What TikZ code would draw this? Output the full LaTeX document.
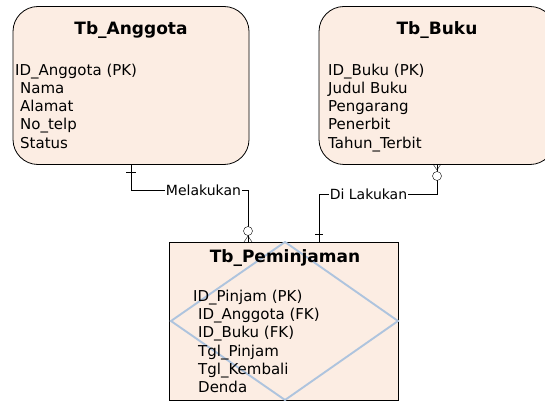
\documentclass[tikz,border=0pt]{standalone}
\usepackage{fontspec}
\setmainfont{DejaVu Sans}
\definecolor{peach}{HTML}{FCEDE3}
\definecolor{diablue}{HTML}{AEC4DE}
\begin{document}
\begin{tikzpicture}[x=1pt,y=-1pt,
    entity/.style={draw, fill=peach, line width=0.8pt, minimum width=#1, minimum height=158pt, inner sep=0pt},
    title/.style={font=\fontsize{17}{19}\selectfont\bfseries, anchor=base, inner sep=0pt},
    attr/.style={font=\fontsize{15}{18.3}\selectfont, align=left, anchor=north west, inner sep=0pt},
    rel/.style={font=\fontsize{14}{16}\selectfont, inner sep=1pt}]
    \useasboundingbox (0,0) rectangle (545,403);

    % entities
    \node[entity=236pt, rounded corners=25pt] (anggota) at (131,85.5) {};
    \node[entity=236pt, rounded corners=25pt] (buku) at (437,85.5) {};
    \node[entity=229pt] (pinjam) at (283.5,321) {};
    \draw[diablue, line width=1.9pt] (171,321) -- (285,242) -- (398,321) -- (285,400) -- cycle;

    \node[title] (tanggota) at (131,35) {Tb\_Anggota};
    \node[title] (tbuku) at (437,35) {Tb\_Buku};
    \node[title] (tpinjam) at (285,262) {Tb\_Peminjaman};

    \node[attr] (aanggota) at (15,63.5) {ID\_Anggota (PK)\\\hspace*{5pt}Nama\\\hspace*{5pt}Alamat\\\hspace*{5pt}No\_telp\\\hspace*{5pt}Status};
    \node[attr] (abuku) at (328,63.5) {ID\_Buku (PK)\\Judul Buku\\Pengarang\\Penerbit\\Tahun\_Terbit};
    \node[attr] (apinjam) at (193,289.5) {ID\_Pinjam (PK)\\\hspace*{5pt}ID\_Anggota (FK)\\\hspace*{5pt}ID\_Buku (FK)\\\hspace*{5pt}Tgl\_Pinjam\\\hspace*{5pt}Tgl\_Kembali\\\hspace*{5pt}Denda};

    % relations
    \node[rel] (melakukan) at (203.5,190) {Melakukan};
    \node[rel] (dilakukan) at (368.5,194) {Di Lakukan};
    \coordinate (pa) at (248,242);
    \coordinate (pb) at (319,242);

    \draw (anggota.south) |- (melakukan.west);
    \draw (melakukan.east) -| (pa);
    \draw (pb) |- (dilakukan.west);
    \draw (dilakukan.east) -| (buku.south);

    % one
    \draw (126,172) -- (136,172);
    \draw (315,234) -- (323,234);
    % zero or many
    \filldraw[fill=white] (248,231) circle (4.5pt);
    \draw (244,242) -- (248,236) -- (252,242);
    \filldraw[fill=white] (437,176) circle (4.5pt);
    \draw (433,164) -- (437,170) -- (441,164);
\end{tikzpicture}
\end{document}
